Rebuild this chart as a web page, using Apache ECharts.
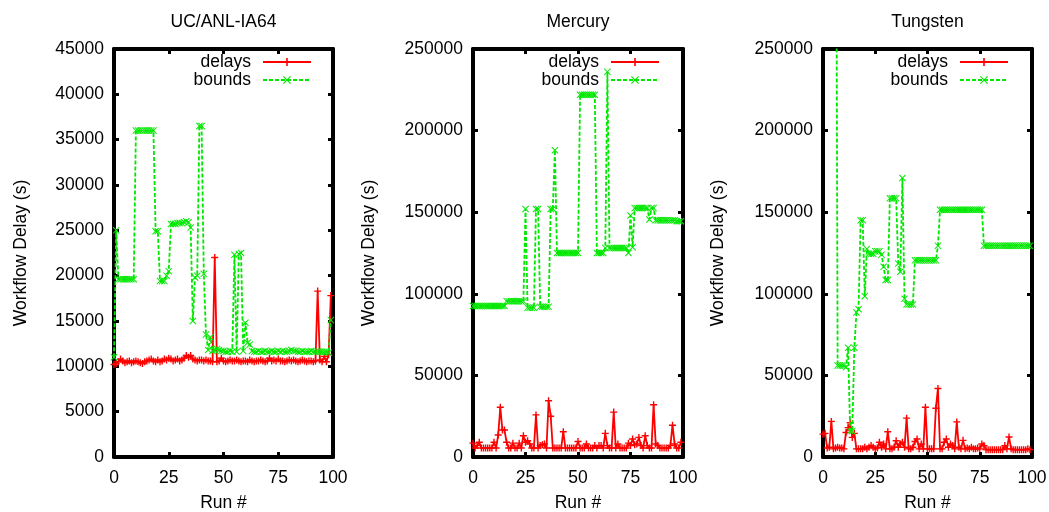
<!DOCTYPE html>
<html>
<head>
<meta charset="utf-8">
<title>Workflow Delay</title>
<script src="https://cdn.jsdelivr.net/npm/echarts@6/dist/echarts.min.js"></script>
<style>
  html, body { margin: 0; padding: 0; background: #fff; }
  #chart { width: 1049px; height: 512px; }
</style>
</head>
<body>
<div id="chart"></div>
<script>
// run numbers 0..99
const runs = Array.from({ length: 100 }, (_, i) => i)

const xTicks = [0, 25, 50, 75, 100]

// UC/ANL-IA64
const ucDelays = [
  10200, 10300, 10500, 10800, 10600, 10400, 10500, 10600, 10400, 10500,
  10600, 10500, 10400, 10300, 10500, 10600, 10700, 10800, 10600, 10500,
  10700, 10500, 10600, 10800, 10700, 10900, 10800, 10600, 10700, 10800,
  10600, 10700, 10900, 11200, 11000, 11200, 10800, 10700, 10600, 10700,
  10700, 10600, 10700, 10600, 10600, 10500, 22000, 10500, 10600, 10900,
  10600, 10500, 10600, 10700, 10600, 10600, 10700, 10600, 10500, 10600,
  10600, 10500, 10700, 10600, 10500, 10600, 10600, 10700, 10600, 10500,
  10600, 10900, 10600, 10700, 10600, 10800, 10600, 10600, 10500, 10600,
  10700, 10600, 10700, 10600, 10500, 10600, 10700, 10600, 10500, 10600,
  10600, 10500, 10600, 18300, 10700, 10500, 11100, 10500, 11300, 17800
]
const ucBounds = [
  11000, 25000, 19600, 19600, 19600, 19600, 19600, 19600, 19600, 19600,
  36000, 36000, 36000, 36000, 36000, 36000, 36000, 36000, 36000, 24900,
  24900, 19400, 19400, 19400, 20000, 20500, 25700, 25700, 25700, 25800,
  25800, 25800, 25900, 26000, 25900, 25300, 15000, 19800, 20000, 36500,
  36500, 20200, 13500, 11800, 13200, 11700, 11800, 11900, 11800, 11700,
  11700, 11600, 11600, 11700, 11600, 22300, 11600, 22400, 22500, 11700,
  14800, 12600, 12400, 11700, 11600, 11600, 11700, 11600, 11600, 11700,
  11600, 11600, 11700, 11600, 11600, 11700, 11600, 11700, 11600, 11600,
  11700, 11800, 11700, 11700, 11600, 11600, 11700, 11600, 11600, 11600,
  11700, 11600, 11600, 11600, 11600, 11600, 11600, 11600, 11500, 15100
]

// Mercury
const merDelays = [
  8500, 5500, 7000, 9000, 5500, 5500, 5500, 5500, 5500, 5500,
  9000, 5500, 13500, 30500, 16500, 16500, 9000, 5500, 5500, 8500,
  5500, 5500, 8500, 5500, 13000, 9000, 10000, 8000, 5500, 5500,
  25800, 5500, 7000, 7500, 8000, 5500, 34500, 25000, 5500, 5500,
  5500, 5500, 5500, 15500, 5500, 5500, 5500, 5500, 5500, 5500,
  9500, 5500, 5500, 5500, 8000, 5500, 5500, 5500, 7000, 5500,
  7000, 7000, 5500, 14500, 7000, 5500, 5500, 27500, 5500, 8000,
  5500, 5500, 5500, 5500, 8500, 7000, 11000, 7500, 8000, 12000,
  7000, 5500, 13000, 7000, 5500, 5500, 32000, 8000, 7000, 5500,
  5500, 5500, 5500, 5500, 7000, 19500, 8000, 5500, 5500, 9000
]
const merBounds = [
  92500, 92500, 92500, 92500, 92500, 92500, 92500, 92500, 92500, 92500,
  92500, 92500, 92500, 92500, 92500, 92500, 95500, 95500, 95500, 95500,
  95500, 95500, 95500, 95500, 95500, 152000, 91500, 91500, 91500, 91500,
  152000, 152000, 92000, 92000, 92000, 92000, 92000, 152000, 152000, 188000,
  125000, 125000, 125000, 125000, 125000, 125000, 125000, 125000, 125000, 125000,
  125000, 222000, 222000, 222000, 222000, 222000, 222000, 222000, 222000, 125000,
  125000, 125000, 125000, 128000, 236000, 128000, 128000, 128000, 128000, 128000,
  128000, 128000, 128000, 128000, 125000, 148000, 128500, 152500, 152500, 152500,
  152500, 152500, 152500, 152500, 145500, 152500, 152500, 145000, 145000, 145000,
  145000, 145000, 145000, 145000, 145000, 145000, 145000, 144500, 144500, 144500
]

// Tungsten
const tunDelays = [
  14000, 14500, 5500, 6000, 21800, 5000, 5500, 6000, 5500, 5500,
  5000, 15000, 18000, 21000, 12000, 14500, 5000, 5000, 5000, 5000,
  6000, 5000, 6000, 7000, 6000, 5000, 5500, 9000, 6000, 8000,
  5000, 15500, 5000, 5000, 6000, 10000, 6000, 8000, 9000, 6000,
  23800, 5000, 5000, 6000, 9500, 11000, 5000, 8000, 5000, 30500,
  5000, 5000, 5000, 5000, 29900, 42000, 5000, 5000, 9000, 11000,
  6000, 8000, 7000, 5000, 21500, 6000, 5000, 10200, 5000, 5500,
  5000, 6000, 5000, 5000, 5500, 5000, 8000, 7000, 4500, 4500,
  4500, 4500, 4500, 4500, 4500, 4500, 4500, 7000, 5000, 12300,
  5000, 4500, 4500, 4500, 4500, 4500, 4500, 4500, 5000, 4500
]
// runs 0-6 are above the plotted range
const tunBounds = [
  500000, 500000, 500000, 500000, 500000, 500000, 500000, 56000, 56000, 56000,
  56000, 55000, 67000, 16000, 16000, 67000, 88500, 90500, 145000, 145000,
  98500, 127500, 124500, 124500, 124500, 126000, 126000, 126000, 124000, 116500,
  108500, 108500, 158500, 158500, 158500, 158500, 118500, 113500, 171000, 97000,
  93500, 93500, 93500, 93500, 120500, 120500, 120500, 120500, 120500, 120500,
  120500, 120500, 120500, 120500, 120500, 129500, 151500, 151500, 151500, 151500,
  151500, 151500, 151500, 151500, 151500, 151500, 151500, 151500, 151500, 151500,
  151500, 151500, 151500, 151500, 151500, 151500, 151500, 129500, 129500, 129500,
  129500, 129500, 129500, 129500, 129500, 129500, 129500, 129500, 129500, 129500,
  129500, 129500, 129500, 129500, 129500, 129500, 129500, 129500, 129500, 129500
]

const font = 'Liberation Sans, Arial, Helvetica, sans-serif'
const fontSize = 17.5
const red = '#ff0000'
const green = '#00e800'
const plusPath = 'path://M4,0 H6 V4 H10 V6 H6 V10 H4 V6 H0 V4 H4 Z'
const crossPath = 'path://M1,0 L5,4 L9,0 L10,1 L6,5 L10,9 L9,10 L5,6 L1,10 L0,9 L4,5 L0,1 Z'

const panels = [
  { title: 'UC/ANL-IA64', delays: ucDelays, bounds: ucBounds, max: 45000, step: 5000, left: 114, width: 219, nameGap: 84, legendRight: 737 },
  { title: 'Mercury', delays: merDelays, bounds: merBounds, max: 250000, step: 50000, left: 473, width: 210, nameGap: 95, legendRight: 389 },
  { title: 'Tungsten', delays: tunDelays, bounds: tunBounds, max: 250000, step: 50000, left: 823, width: 209, nameGap: 96, legendRight: 40 }
]

const frameLine = { show: true, onZero: false, lineStyle: { color: '#000', width: 4 } }
const frameTick = { show: true, inside: true, length: 5, lineStyle: { color: '#000', width: 3 } }
const labelStyle = { fontSize: fontSize, fontFamily: font, color: '#000' }

const grid = []
const xAxis = []
const yAxis = []
const series = []
const legend = []

panels.forEach((p, i) => {
  grid.push({ left: p.left, width: p.width, top: 49, bottom: 55, outerBoundsMode: 'none', containLabel: false })

  xAxis.push({
    gridIndex: i, type: 'value', min: 0, max: 100, interval: 25, position: 'bottom',
    axisLine: frameLine, axisTick: frameTick, splitLine: { show: false },
    axisLabel: { ...labelStyle, margin: 12, formatter: v => xTicks.includes(v) ? String(v) : '' },
    name: 'Run #', nameLocation: 'middle', nameGap: 37, nameTextStyle: labelStyle
  })
  xAxis.push({
    gridIndex: i, type: 'value', min: 0, max: 100, interval: 25, position: 'top',
    axisLine: frameLine, axisTick: frameTick, splitLine: { show: false }, axisLabel: { show: false }
  })

  yAxis.push({
    gridIndex: i, type: 'value', min: 0, max: p.max, interval: p.step, position: 'left',
    axisLine: frameLine, axisTick: frameTick, splitLine: { show: false },
    axisLabel: { ...labelStyle, margin: 10, formatter: v => String(v) },
    name: 'Workflow Delay (s)', nameLocation: 'middle', nameGap: p.nameGap, nameTextStyle: labelStyle
  })
  yAxis.push({
    gridIndex: i, type: 'value', min: 0, max: p.max, interval: p.step, position: 'right',
    axisLine: frameLine, axisTick: frameTick, splitLine: { show: false }, axisLabel: { show: false }
  })

  series.push({
    name: 'delays', type: 'line', xAxisIndex: i * 2, yAxisIndex: i * 2,
    data: runs.map((r, k) => [r, p.delays[k]]),
    symbol: plusPath, symbolSize: 7, showSymbol: true, clip: true, z: 2,
    lineStyle: { color: red, width: 1.8 },
    itemStyle: { color: red }
  })
  series.push({
    name: 'bounds', type: 'line', xAxisIndex: i * 2, yAxisIndex: i * 2,
    data: runs.map((r, k) => [r, p.bounds[k]]),
    symbol: crossPath, symbolSize: 7, showSymbol: true, clip: true, z: 3,
    lineStyle: { color: green, width: 1.8, type: [4, 2] },
    itemStyle: { color: green }
  })

  ;['delays', 'bounds'].forEach((name, j) => {
    legend.push({
      data: [name], orient: 'vertical', align: 'right', right: p.legendRight, top: 53 + j * 18,
      padding: 0, itemWidth: 48, itemHeight: 10, selectedMode: false,
      textStyle: { ...labelStyle, lineHeight: 18, padding: [0, 7, 0, 0] }
    })
  })
})

const myChart = echarts.init(document.getElementById('chart'))
myChart.setOption({
  animation: false,
  backgroundColor: '#fff',
  title: panels.map(p => ({
    text: p.title, left: p.left + p.width / 2, top: 13, textAlign: 'center', padding: 0,
    textStyle: { ...labelStyle, fontWeight: 'normal' }
  })),
  legend,
  grid,
  xAxis,
  yAxis,
  series
})
</script>
</body>
</html>
